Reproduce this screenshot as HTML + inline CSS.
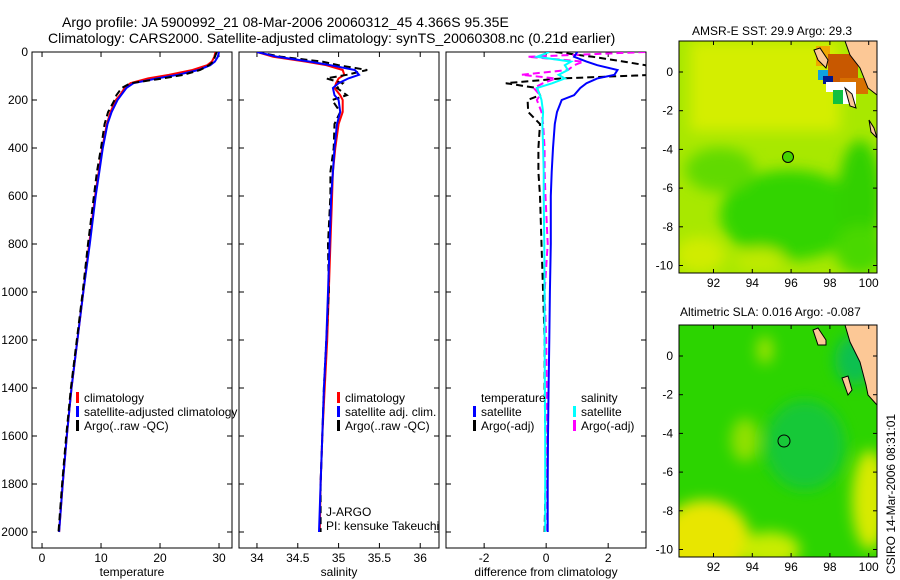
<!DOCTYPE html>
<html><head><meta charset="utf-8"><style>
body{margin:0;background:#fff;}
svg{display:block;font-family:"Liberation Sans",sans-serif;}
</style></head><body>
<svg id="fig" width="900" height="580" viewBox="0 0 900 580">
<defs>
<filter id="blur6" x="-50%" y="-50%" width="200%" height="200%"><feGaussianBlur stdDeviation="7"/></filter>
<clipPath id="cm1"><rect x="679" y="41" width="198" height="232"/></clipPath>
<clipPath id="cm2"><rect x="679" y="325" width="198" height="232"/></clipPath>
<clipPath id="cp1"><rect x="32" y="52" width="200" height="496"/></clipPath>
<clipPath id="cp2"><rect x="239" y="52" width="200" height="496"/></clipPath>
<clipPath id="cp3"><rect x="446" y="52" width="200" height="496"/></clipPath>
</defs>
<text x="62" y="27" font-size="14">Argo profile: JA 5900992_21 08-Mar-2006 20060312_45 4.366S 95.35E</text>
<text x="48" y="43" font-size="14">Climatology: CARS2000. Satellite-adjusted climatology: synTS_20060308.nc (0.21d earlier)</text>

<g>
<text x="692" y="35" font-size="12">AMSR-E SST: 29.9 Argo: 29.3</text>
<g clip-path="url(#cm1)">
<rect x="679" y="41" width="198" height="232" fill="#a8e800"/>
<g filter="url(#blur6)">
<rect x="690" y="41" width="150" height="90" fill="#d4ee00"/>
<ellipse cx="790" cy="215" rx="70" ry="45" fill="#30d400"/>
<ellipse cx="860" cy="200" rx="22" ry="60" fill="#30d000"/>
<ellipse cx="720" cy="170" rx="35" ry="22" fill="#60da00"/>
<ellipse cx="860" cy="250" rx="25" ry="25" fill="#4ad800"/>
<ellipse cx="700" cy="255" rx="25" ry="18" fill="#d0ec00"/>
<ellipse cx="760" cy="260" rx="25" ry="12" fill="#c0ea00"/>
</g>
<rect x="816" y="46" width="14" height="20" fill="#f0a800"/>
<rect x="828" y="54" width="30" height="28" fill="#c85800"/>
<rect x="840" y="78" width="28" height="16" fill="#d87000"/>
<rect x="818" y="70" width="10" height="10" fill="#10a0e0"/>
<rect x="823" y="76" width="10" height="8" fill="#001890"/>
<rect x="826" y="82" width="30" height="10" fill="#ffffff"/>
<rect x="838" y="88" width="18" height="16" fill="#ffffff"/>
<rect x="833" y="90" width="10" height="14" fill="#10c040"/>
<polygon points="845,41 877,41 877,95 868,88 860,68 850,55" fill="#fcc896" stroke="#000" stroke-width="1"/>
<polygon points="814,50 820,48 828,60 826,68 818,60" fill="#fcc896" stroke="#000"/>
<polygon points="845,88 852,94 856,108 850,106" fill="#fcc896" stroke="#000"/>
<polygon points="869,120 874,128 877,138 871,132" fill="#fcc896" stroke="#000"/>
<circle cx="788" cy="157" r="5.5" fill="#44d400" stroke="#000"/>
</g>
<rect x="679" y="41" width="198" height="232" fill="none" stroke="#000"/>
</g>
<g>
<text x="680" y="316" font-size="12">Altimetric SLA: 0.016 Argo: -0.087</text>
<g clip-path="url(#cm2)">
<rect x="679" y="325" width="198" height="232" fill="#2cd400"/>
<g filter="url(#blur6)">
<ellipse cx="705" cy="540" rx="45" ry="40" fill="#e8e600"/>
<ellipse cx="770" cy="550" rx="30" ry="18" fill="#c8ec00"/>
<ellipse cx="870" cy="500" rx="18" ry="50" fill="#d8ea00"/>
<ellipse cx="745" cy="440" rx="14" ry="22" fill="#90e000"/>
<ellipse cx="765" cy="350" rx="8" ry="14" fill="#a0e400"/>
<ellipse cx="805" cy="445" rx="40" ry="45" fill="#18c838"/>
<ellipse cx="855" cy="360" rx="20" ry="25" fill="#10c050"/>
</g>
<polygon points="845,325 877,325 877,405 868,395 866,385 860,362 850,342" fill="#fcc896" stroke="#000"/>
<polygon points="813,330 818,328 826,340 826,345 818,345" fill="#fcc896" stroke="#000"/>
<polygon points="842,378 848,376 852,390 848,395" fill="#fcc896" stroke="#000"/>
<circle cx="784" cy="441" r="6" fill="#18c838" stroke="#000"/>
</g>
<rect x="679" y="325" width="198" height="232" fill="none" stroke="#000"/>
</g>
<text transform="translate(895,574) rotate(-90)" font-size="12">CSIRO 14-Mar-2006 08:31:01</text>

<g id="plots"></g>
</svg>
<script>
// ---------- data ----------
const depths = [0,20,40,55,75,95,110,130,150,180,200,250,300,400,500,600,800,1000,1200,1400,1600,1800,2000];
const tempClim = [29.4,29.2,28.8,28.0,25.5,21.5,18,15,14,13.2,12.5,11.6,11,10.2,9.6,9.0,8.0,7.0,6.0,5.0,4.2,3.5,2.9];
const tempSat  = [30.0,29.8,29.3,28.5,26.5,23,19.5,15.5,14.3,13.4,12.8,11.8,11.1,10.3,9.7,9.1,8.1,7.0,6.0,5.0,4.2,3.5,2.9];
const tempArgo = [29.6,29.3,29,28.3,26.8,24,20.5,15,13.5,12.6,12.3,11.2,10.6,10.0,9.3,8.8,7.8,6.9,5.9,4.9,4.1,3.4,2.8];
const salClim = [34.0,34.2,34.6,34.85,35.05,35.07,35.0,34.97,34.95,35.02,35.05,35.05,35.0,34.96,34.93,34.92,34.9,34.88,34.86,34.83,34.8,34.78,34.77];
const salSat  = [34.0,34.25,34.65,34.9,35.2,35.25,35.12,35.0,34.93,34.95,35.0,35.02,34.98,34.95,34.93,34.91,34.89,34.87,34.85,34.82,34.8,34.78,34.76];
const salArgo = [34.0,34.3,34.8,35.0,35.35,35.1,34.85,35.05,34.98,35.1,34.92,35.02,34.95,34.94,34.9,34.9,34.87,34.88,34.85,34.82,34.8,34.78,34.78];
const dTempSat = [1.0,0.9,1.3,1.65,2.3,2.2,1.65,1.3,1.1,0.9,0.5,0.35,0.28,0.22,0.18,0.15,0.15,0.12,0.1,0.08,0.06,0.05,0.05];
const dSalSat  = [0.1,-0.3,0.8,0.6,0.7,0.4,0.6,0.2,-0.3,-0.2,-0.15,-0.1,-0.12,-0.1,-0.08,-0.08,-0.06,-0.05,-0.05,-0.04,-0.03,-0.03,-0.03];
const dTempArgo = [0.3,1.5,2.5,3.2,3.4,3.5,0.5,-1.3,-0.3,-0.2,-0.6,-0.58,-0.2,-0.25,-0.25,-0.2,-0.15,-0.1,-0.05,-0.05,-0.02,-0.02,-0.05];
const dSalArgo  = [3.2,-0.6,1.2,0.9,0.7,-0.8,0.3,-0.1,-0.4,-0.2,-0.3,-0.15,-0.1,-0.05,-0.05,-0.02,0.05,-0.05,0,0.02,0,0.02,0];
const depthTicks = [0,200,400,600,800,1000,1200,1400,1600,1800,2000];
const tempTicks = [0,10,20,30];
const salTicks = [34,34.5,35,35.5,36];
const diffTicks = [-2,0,2];
const latTicks = [0,-2,-4,-6,-8,-10];
const lonTicks = [92,94,96,98,100];

const NS="http://www.w3.org/2000/svg";
const root=document.getElementById('plots');
function mk(tag,attrs,parent){const e=document.createElementNS(NS,tag);for(const k in attrs)e.setAttribute(k,attrs[k]);(parent||root).appendChild(e);return e;}
const yD = d => 52 + d*0.24;
const panels=[
 {x:32,min:-1.7,max:32.2,ticks:tempTicks,label:'temperature',clip:'cp1',name:'temperature-panel'},
 {x:239,min:33.78,max:36.23,ticks:salTicks,label:'salinity',clip:'cp2',name:'salinity-panel'},
 {x:446,min:-3.23,max:3.22,ticks:diffTicks,label:'difference from climatology',clip:'cp3',name:'difference-panel'}
];
panels.forEach(p=>{p.sx=v=>p.x+(v-p.min)/(p.max-p.min)*200;});

panels.forEach((p,i)=>{
 const g=mk('g',{});
 
 
 mk('rect',{x:p.x,y:52,width:200,height:496,fill:'none',stroke:'#000'},g);
 p.ticks.forEach(t=>{const x=p.sx(t);
  mk('line',{x1:x,x2:x,y1:52,y2:57,stroke:'#000'},g);
  mk('line',{x1:x,x2:x,y1:548,y2:543,stroke:'#000'},g);
  const tx=mk('text',{x:x,y:562,'font-size':12,'text-anchor':'middle'},g);tx.textContent=t;
  
  
 });
 depthTicks.forEach(d=>{const y=yD(d);
  mk('line',{x1:p.x,x2:p.x+5,y1:y,y2:y,stroke:'#000'},g);
  mk('line',{x1:p.x+200,x2:p.x+195,y1:y,y2:y,stroke:'#000'},g);
  if(i===0){const tx=mk('text',{x:28,y:y+4,'font-size':12,'text-anchor':'end'},g);tx.textContent=d;
   
   }
 });
 const lb=mk('text',{x:p.x+100,y:576,'font-size':12,'text-anchor':'middle'},g);lb.textContent=p.label;
 
 
});

function line(p,vals,color,dash,name){
 const pts=vals.map((v,k)=>p.sx(v).toFixed(1)+','+yD(depths[k]).toFixed(1)).join(' ');
 const e=mk('polyline',{points:pts,fill:'none',stroke:color,'stroke-width':2,'clip-path':'url(#'+p.clip+')'});
 if(dash)e.setAttribute('stroke-dasharray',dash);
 
 
}
line(panels[0],tempClim,'#ff0000',null,'temp-climatology-line');
line(panels[0],tempSat,'#0000ff',null,'temp-satellite-line');
line(panels[0],tempArgo,'#000',"7,4",'temp-argo-line');
line(panels[1],salClim,'#ff0000',null,'sal-climatology-line');
line(panels[1],salArgo,'#000',"7,4",'sal-argo-line');
line(panels[1],salSat,'#0000ff',null,'sal-satellite-line');
line(panels[2],dTempArgo,'#000',"7,4",'diff-temp-argo-line');
line(panels[2],dSalArgo,'#ff00ff',"7,4",'diff-sal-argo-line');
line(panels[2],dSalSat,'#00ffff',null,'diff-sal-satellite-line');
line(panels[2],dTempSat,'#0000ff',null,'diff-temp-satellite-line');

function legend(x,y,color,text,name){
 const g=mk('g',{});
 
 
 if(color) mk('rect',{x:x,y:y-10,width:3,height:11,fill:color},g);
 const t=mk('text',{x:x+8,y:y,'font-size':12},g);t.textContent=text;
}
legend(76,402,'#ff0000','climatology','legend-climatology');
legend(76,416,'#0000ff','satellite-adjusted climatology','legend-satellite-adjusted');
legend(76,430,'#000','Argo(..raw -QC)','legend-argo');
legend(337,402,'#ff0000','climatology','legend-sal-climatology');
legend(337,416,'#0000ff','satellite adj. clim.','legend-sal-satellite');
legend(337,430,'#000','Argo(..raw -QC)','legend-sal-argo');
legend(473,402,null,'temperature','legend-temperature-header');
legend(473,416,'#0000ff','satellite','legend-diff-temp-satellite');
legend(473,430,'#000','Argo(-adj)','legend-diff-temp-argo');
legend(573,402,null,'salinity','legend-salinity-header');
legend(573,416,'#00ffff','satellite','legend-diff-sal-satellite');
legend(573,430,'#ff00ff','Argo(-adj)','legend-diff-sal-argo');
const t1=mk('text',{x:326,y:516,'font-size':12});t1.textContent='J-ARGO';


const t2=mk('text',{x:326,y:530,'font-size':12});t2.textContent='PI: kensuke Takeuchi';



[{top:41,lat0:72,name:'sst'},{top:325,lat0:356,name:'sla'}].forEach(m=>{
 const g=mk('g',{});
 
 
 const bot=m.top+232;
 latTicks.forEach(l=>{const y=m.lat0-l*19.35;
  mk('line',{x1:679,x2:683,y1:y,y2:y,stroke:'#000'},g);
  mk('line',{x1:877,x2:873,y1:y,y2:y,stroke:'#000'},g);
  const t=mk('text',{x:673,y:y+4,'font-size':12,'text-anchor':'end'},g);t.textContent=l;
 });
 lonTicks.forEach(l=>{const x=713.5+(l-92)*19.4;
  mk('line',{x1:x,x2:x,y1:m.top,y2:m.top+4,stroke:'#000'},g);
  mk('line',{x1:x,x2:x,y1:bot,y2:bot-4,stroke:'#000'},g);
  const t=mk('text',{x:x,y:bot+14,'font-size':12,'text-anchor':'middle'},g);t.textContent=l;
 });
});
</script>
</body></html>
